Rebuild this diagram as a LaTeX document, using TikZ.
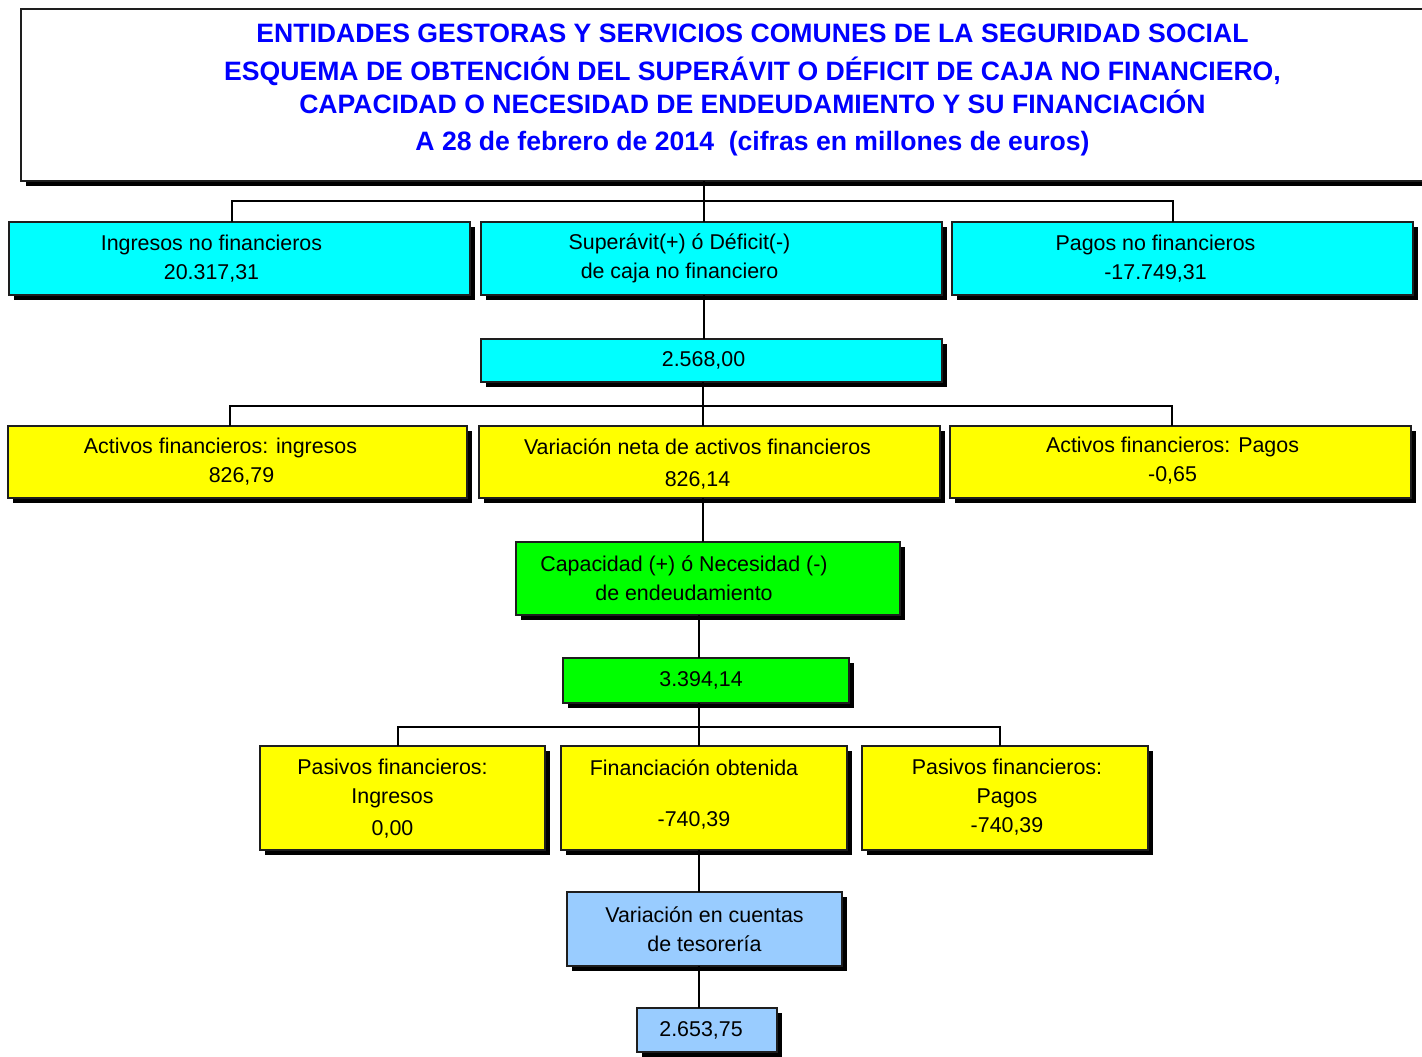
\documentclass[tikz,border=0pt]{standalone}
\usepackage{fontspec}
\setmainfont{Liberation Sans}
\usetikzlibrary{shadows}
\definecolor{titleblue}{RGB}{0,0,255}
\definecolor{boxcyan}{RGB}{0,255,255}
\definecolor{boxyellow}{RGB}{255,255,0}
\definecolor{boxgreen}{RGB}{0,255,0}
\definecolor{boxblue}{RGB}{153,204,255}
\definecolor{edgegrey}{RGB}{30,30,30}

\tikzset{
  cell/.style={draw=edgegrey, line width=0.6pt, inner sep=0pt, outer sep=0pt,
    drop shadow={shadow xshift=2.5pt, shadow yshift=-2.5pt, opacity=1, fill=black}},
  cyancell/.style={cell, fill=boxcyan, minimum width=230.5pt},
  yellowcell/.style={cell, fill=boxyellow},
  greencell/.style={cell, fill=boxgreen},
  bluecell/.style={cell, fill=boxblue},
  txt/.style={align=center, inner sep=0pt, font=\fontsize{10.7}{14.5}\selectfont},
  ttl/.style={align=center, inner sep=0pt, text=titleblue, font=\fontsize{13.3}{16.5}\selectfont\bfseries},
  link/.style={draw=black, line width=0.6pt},
}

\begin{document}
\begin{tikzpicture}[x=0.5pt, y=-0.5pt]
\useasboundingbox (0,0) rectangle (1422,1056);

% header
\node[cell, fill=white, minimum width=709.5pt, minimum height=86pt] (hdr) at (730.5,95) {};
\node[ttl] (hdr-t) at ([xshift=11pt, yshift=2.5pt]hdr.center) {%
  ENTIDADES GESTORAS Y SERVICIOS COMUNES DE LA SEGURIDAD SOCIAL\\[2.5pt]
  ESQUEMA DE OBTENCIÓN DEL SUPERÁVIT O DÉFICIT DE CAJA NO FINANCIERO,\\
  CAPACIDAD O NECESIDAD DE ENDEUDAMIENTO Y SU FINANCIACIÓN\\[2pt]
  A 28 de febrero de 2014\ \ (cifras en millones de euros)};

% non-financial flows
\node[cyancell, minimum height=36.5pt] (ing) at (239.5,258.5) {};
\node[cyancell, minimum height=36.5pt] (sup) at (711.5,258.5) {};
\node[cyancell, minimum height=36.5pt] (pag) at (1182.5,258.5) {};
\node[cyancell, minimum height=21.5pt] (sal) at (711.5,360.5) {};
\node[txt] (ing-t) at ([xshift=-14pt]ing.center) {Ingresos no financieros\\20.317,31};
\node[txt] (sup-t) at ([xshift=-16pt]sup.center) {Superávit(+) ó Déficit(-)\\de caja no financiero};
\node[txt] (pag-t) at ([xshift=-13.5pt]pag.center) {Pagos no financieros\\-17.749,31};
\node[txt] (sal-t) at ([xshift=-4pt]sal.center) {2.568,00};

% financial assets
\node[yellowcell, minimum width=229.5pt, minimum height=36pt] (afi) at (237.5,462) {};
\node[yellowcell, minimum width=230.5pt, minimum height=36pt] (van) at (709.5,462) {};
\node[yellowcell, minimum width=230.5pt, minimum height=36pt] (afp) at (1180.5,462) {};
\node[txt] (afi-t) at ([xshift=-8.5pt]afi.center) {Activos financieros: ingresos\\\hspace*{21pt}826,79};
\node[txt] (van-t) at ([xshift=-6pt, yshift=-1pt]van.center) {Variación neta de activos financieros\\[1.5pt]826,14};
\node[txt] (afp-t) at ([xshift=-4pt, yshift=0.5pt]afp.center) {Activos financieros: Pagos\\-0,65};

% borrowing
\node[greencell, minimum width=192pt, minimum height=36.5pt] (cap) at (708,578.5) {};
\node[greencell, minimum width=143pt, minimum height=22.5pt] (cnv) at (706,680.5) {};
\node[txt] (cap-t) at ([xshift=-12pt]cap.center) {Capacidad (+) ó Necesidad (-)\\de endeudamiento};
\node[txt] (cnv-t) at ([xshift=-2.5pt]cnv.center) {3.394,14};

% financial liabilities
\node[yellowcell, minimum width=142.5pt, minimum height=52pt] (pfi) at (402.5,798) {};
\node[yellowcell, minimum width=143pt, minimum height=52pt] (fin) at (704,798) {};
\node[yellowcell, minimum width=143pt, minimum height=52pt] (pfp) at (1005,798) {};
\node[txt] (pfi-t) at ([xshift=-5pt, yshift=-0.5pt]pfi.center) {Pasivos financieros:\\Ingresos\\[1.5pt]0,00};
\node[txt] (fin-t) at ([xshift=-5pt, yshift=2pt]fin.center) {Financiación obtenida\\[11pt]-740,39};
\node[txt] (pfp-t) at ([xshift=1pt, yshift=0.5pt]pfp.center) {Pasivos financieros:\\Pagos\\-740,39};

% treasury
\node[bluecell, minimum width=137.5pt, minimum height=37pt] (vct) at (704.5,929) {};
\node[bluecell, minimum width=70pt, minimum height=22pt] (tes) at (707,1030) {};
\node[txt] (vct-t) at (vct.center) {Variación en cuentas\\de tesorería};
\node[txt] (tes-t) at ([xshift=-3pt]tes.center) {2.653,75};

% connectors
\coordinate (b1) at (704,201);
\coordinate (b1l) at (232,201);
\coordinate (b1r) at (1173,201);
\draw[link] (b1 |- hdr.south) -- (b1 |- sup.north);
\draw[link] (b1l |- ing.north) -- (b1l) -- (b1r) -- (b1r |- pag.north);
\draw[link] (b1 |- sup.south) -- (b1 |- sal.north);

\coordinate (b2) at (703,406);
\coordinate (b2l) at (230,406);
\coordinate (b2r) at (1172,406);
\draw[link] (b2 |- sal.south) -- (b2 |- van.north);
\draw[link] (b2l |- afi.north) -- (b2l) -- (b2r) -- (b2r |- afp.north);
\draw[link] (b2 |- van.south) -- (b2 |- cap.north);

\coordinate (b3) at (699,727);
\coordinate (b3l) at (398,727);
\coordinate (b3r) at (1000,727);
\draw[link] (b3 |- cap.south) -- (b3 |- cnv.north);
\draw[link] (b3 |- cnv.south) -- (b3 |- fin.north);
\draw[link] (b3l |- pfi.north) -- (b3l) -- (b3r) -- (b3r |- pfp.north);
\draw[link] (b3 |- fin.south) -- (b3 |- vct.north);
\draw[link] (b3 |- vct.south) -- (b3 |- tes.north);
\end{tikzpicture}
\end{document}
